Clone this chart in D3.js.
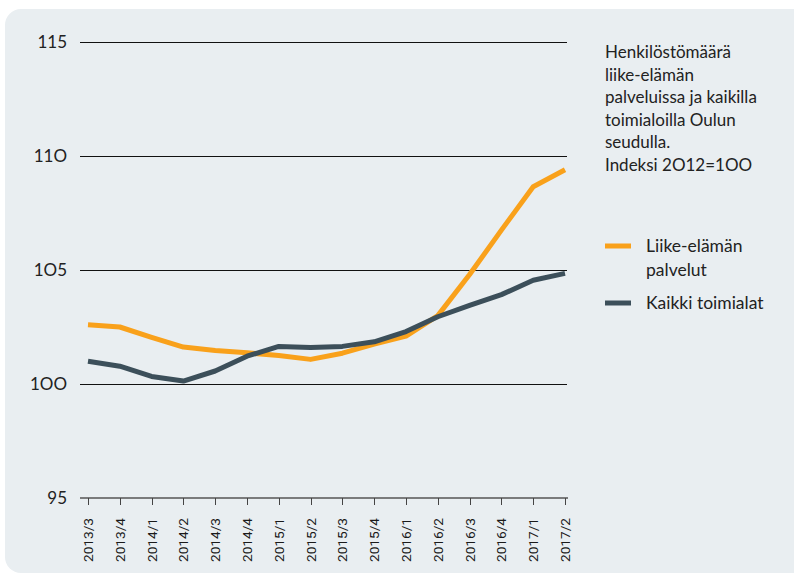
<!DOCTYPE html>
<html><head><meta charset="utf-8">
<script src="https://cdn.jsdelivr.net/npm/d3@7"></script>
<style>
html,body{margin:0;padding:0;background:#fff;}
svg{display:block;}
</style></head>
<body>
<svg id="chart" width="794" height="578"></svg>
<script>
const categories = ["2013/3","2013/4","2014/1","2014/2","2014/3","2014/4","2015/1","2015/2","2015/3","2015/4","2016/1","2016/2","2016/3","2016/4","2017/1","2017/2"];
const liikeElaman = [102.6,102.5,102.05,101.62,101.47,101.37,101.25,101.08,101.35,101.75,102.1,103.0,104.8,106.75,108.65,109.4];
const kaikki = [101.0,100.78,100.33,100.13,100.57,101.22,101.65,101.6,101.65,101.85,102.3,102.95,103.45,103.92,104.55,104.85];
const yTicks = [95,100,105,110,115];
const yTickLabels = ["95","1OO","1O5","11O","115"];
const seriesNames = ["Liike-elämän palvelut","Kaikki toimialat"];
const colors = ["#f9a11b","#3c4f5a"];
const titleLines = ["Henkilöstömäärä","liike-elämän","palveluissa ja kaikilla","toimialoilla Oulun","seudulla.","Indeksi 2O12=1OO"];

const svg = d3.select("#chart");
const font = "Lato, 'Open Sans', sans-serif";

svg.append("rect").attr("x",5).attr("y",9).attr("width",820).attr("height",564)
  .attr("rx",16).attr("fill","#e9eef1");

const x = d3.scalePoint().domain(categories).range([88,565]);
const y = d3.scaleLinear().domain([95,115]).range([498,42]);

// grid lines
const g = svg.append("g");
yTicks.forEach((t,i)=>{
  if (t===95) return;
  const yy = Math.round(y(t))+0.5;
  g.append("line").attr("x1",80).attr("x2",567).attr("y1",yy).attr("y2",yy)
    .attr("stroke","#111").attr("stroke-width",1);
});
yTicks.forEach((t,i)=>{
  g.append("text").attr("x",67).attr("y",y(t)).attr("dy","0.36em")
    .attr("text-anchor","end").attr("font-family",font).attr("font-size",17)
    .attr("fill","#222").text(yTickLabels[i]);
});

// x axis
const xa = svg.append("g").attr("transform",`translate(0,${Math.round(y(95))})`);
xa.append("line").attr("x1",80).attr("x2",568).attr("stroke","#555").attr("stroke-width",1.5);
categories.forEach(c=>{
  const xx = Math.round(x(c))+0.5;
  xa.append("line").attr("x1",xx).attr("x2",xx).attr("y1",0).attr("y2",7)
    .attr("stroke","#444").attr("stroke-width",1);
  xa.append("text")
    .attr("transform",`translate(${x(c)+5},${64}) rotate(-90)`)
    .attr("font-family","Roboto, 'DejaVu Sans', sans-serif")
    .attr("font-size",13.5).attr("fill","#1a1a1a")
    .attr("textLength",44).attr("lengthAdjust","spacingAndGlyphs").text(c);
});

// lines
const line = d3.line().x((d,i)=>x(categories[i])).y(d=>y(d));
[liikeElaman,kaikki].forEach((s,i)=>{
  svg.append("path").datum(s).attr("d",line).attr("fill","none")
    .attr("stroke",colors[i]).attr("stroke-width",5).attr("stroke-linejoin","round");
});

// title
const tt = svg.append("text").attr("font-family",font).attr("font-size",17).attr("fill","#222");
titleLines.forEach((l,i)=>{
  tt.append("tspan").attr("x",605).attr("y",58+i*22.6).text(l);
});

// legend
const legY = [246,303];
const legText = [["Liike-elämän","palvelut"],["Kaikki toimialat"]];
legText.forEach((lines,i)=>{
  svg.append("line").attr("x1",605).attr("x2",631).attr("y1",legY[i]).attr("y2",legY[i])
    .attr("stroke",colors[i]).attr("stroke-width",5);
  const t = svg.append("text").attr("font-family",font).attr("font-size",17.5).attr("fill","#222");
  lines.forEach((l,j)=>{
    t.append("tspan").attr("x",646).attr("y",legY[i]+6+j*24).text(l);
  });
});
</script>
</body></html>
